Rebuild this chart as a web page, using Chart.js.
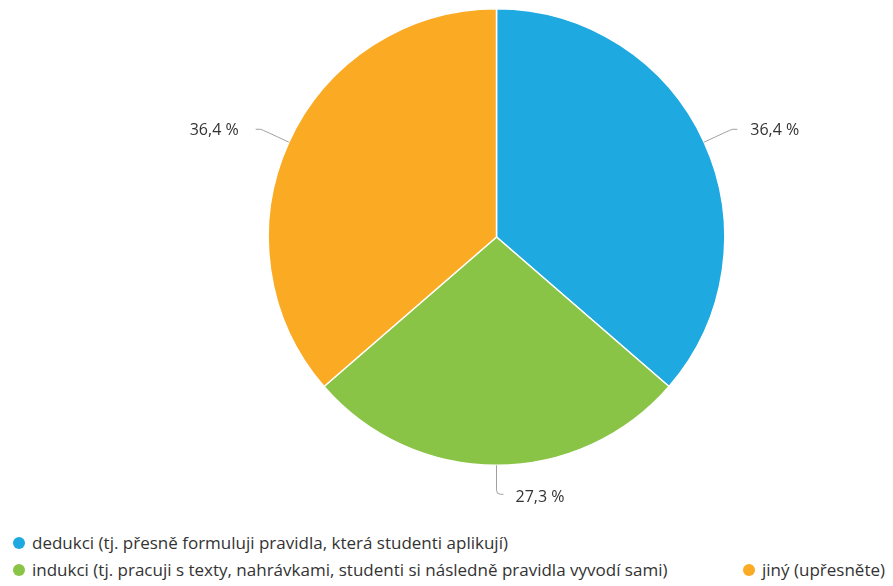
<!DOCTYPE html>
<html lang="cs">
<head>
    <meta charset="UTF-8">
    <title>Pie</title>
    <script src="https://cdn.jsdelivr.net/npm/chart.js"></script>
    <style>
        body {
            margin: 0;
            background: #ffffff;
            font-family: 'Open Sans', sans-serif;
            width: 893px;
            height: 586px;
            overflow: hidden;
        }
        .chart-box {
            position: relative;
            width: 893px;
            height: 520px;
        }
        #legend {
            position: absolute;
            left: 13px;
            right: 8px;
            top: 529px;
            font-size: 17px;
            color: #333333;
        }
        .row {
            display: flex;
            height: 27px;
            align-items: center;
        }
        .item {
            display: flex;
            align-items: center;
            white-space: nowrap;
        }
        .item.right { margin-left: auto; }
        .dot {
            width: 12px;
            height: 12px;
            border-radius: 50%;
            margin-right: 7px;
        }
    </style>
</head>
<body>
    <div class="chart-box"><canvas id="pie"></canvas></div>
    <div id="legend"></div>

    <script>
        const categories = [
            'dedukci (tj. přesně formuluji pravidla, která studenti aplikují)',
            'indukci (tj. pracuji s texty, nahrávkami, studenti si následně pravidla vyvodí sami)',
            'jiný (upřesněte)'
        ];
        const counts = [4, 3, 4];
        const colors = ['#1fa9e1', '#89c446', '#fbaa24'];

        // leader lines + percentage labels
        const leaderLabels = {
            id: 'leaderLabels',
            afterDatasetsDraw(chart) {
                const ctx = chart.ctx;
                const meta = chart.getDatasetMeta(0);
                const total = counts.reduce((a, b) => a + b, 0);
                ctx.save();
                ctx.font = '16px "Open Sans", sans-serif';
                ctx.textBaseline = 'middle';
                meta.data.forEach((arc, i) => {
                    const p = arc.getProps(['x', 'y', 'startAngle', 'endAngle', 'outerRadius'], true);
                    const mid = (p.startAngle + p.endAngle) / 2;
                    const c = Math.cos(mid), s = Math.sin(mid);
                    const r = p.outerRadius;
                    const x0 = p.x + r * c, y0 = p.y + r * s;
                    const bottom = Math.abs(c) < 0.01;
                    const ext = bottom ? 29 : 31;
                    const x1 = p.x + (r + ext) * c, y1 = p.y + (r + ext) * s;
                    const dir = c < -0.01 ? -1 : 1;
                    const x2 = x1 + dir * (bottom ? 7 : 5);
                    ctx.strokeStyle = '#a0a0a0';
                    ctx.lineWidth = 1;
                    ctx.beginPath();
                    ctx.moveTo(x0, y0);
                    if (bottom) {
                        ctx.lineTo(x1, y1 - 4);
                        ctx.quadraticCurveTo(x1, y1, x1 + 4, y1);
                        ctx.lineTo(x2, y1);
                    } else {
                        ctx.quadraticCurveTo(x1 - dir * 3, y1 + 1, x1, y1);
                        ctx.lineTo(x2, y1);
                    }
                    ctx.stroke();
                    const txt = (counts[i] / total * 100).toFixed(1).replace('.', ',') + ' %';
                    ctx.fillStyle = '#333333';
                    ctx.textAlign = dir < 0 ? 'right' : 'left';
                    const gap = bottom ? 12 : (dir < 0 ? 17 : 13);
                    ctx.fillText(txt, x2 + dir * gap, y1 + (bottom ? 3 : 1));
                });
                ctx.restore();
            }
        };

        const chart = new Chart(document.getElementById('pie'), {
            type: 'pie',
            data: {
                labels: categories,
                datasets: [{
                    data: counts,
                    backgroundColor: colors,
                    borderColor: '#ffffff',
                    borderWidth: 1.5
                }]
            },
            options: {
                responsive: true,
                maintainAspectRatio: false,
                animation: false,
                layout: { padding: { left: 100, right: 0, top: 8, bottom: 54 } },
                plugins: {
                    legend: { display: false },
                    tooltip: { enabled: false }
                }
            },
            plugins: [leaderLabels]
        });

        // html legend: first row one item, second row two (last pushed right)
        const legend = document.getElementById('legend');
        const rows = [[0], [1, 2]];
        rows.forEach(r => {
            const row = document.createElement('div');
            row.className = 'row';
            r.forEach((idx, k) => {
                const item = document.createElement('div');
                item.className = 'item' + (k > 0 ? ' right' : '');
                item.innerHTML = '<span class="dot" style="background:' + colors[idx] + '"></span>' + categories[idx];
                row.appendChild(item);
            });
            legend.appendChild(row);
        });
    </script>
</body>
</html>
